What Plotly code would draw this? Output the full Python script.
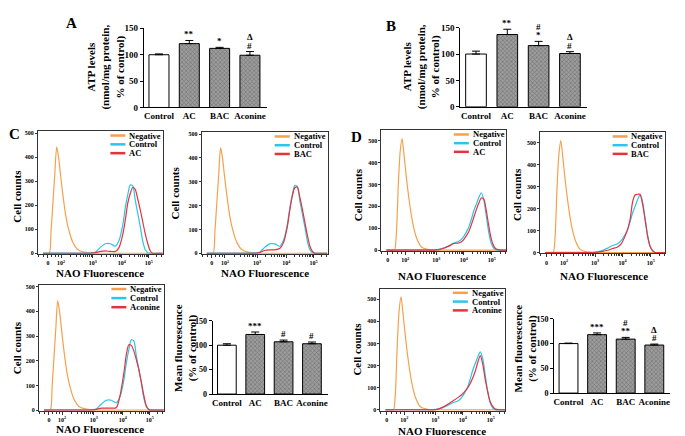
import math
import plotly.graph_objects as go

W, H = 685, 436
SERIF = "Liberation Serif, Times New Roman, Times, serif"

# ---- bar chart data ----
groups = ['Control', 'AC', 'BAC', 'Aconine']

atp_a = [100, 121, 112, 99]
atp_a_err = [1.5, 6, 2, 7]
atp_a_sig = [[], ['**'], ['*'], ['#', 'Δ']]

atp_b = [100, 137, 116, 101]
atp_b_err = [5.5, 10, 8, 3.5]
atp_b_sig = [[], ['**'], ['*', '#'], ['#', 'Δ']]

mf_c = [100, 122, 107, 103]
mf_c_err = [3, 5, 3.5, 3.5]
mf_c_sig = [[], ['***'], ['#'], ['#']]

mf_d = [100, 118, 109, 97]
mf_d_err = [1, 3.5, 3.5, 2]
mf_d_sig = [[], ['***'], ['**', '#'], ['#', 'Δ']]

# ---- flow histograms (channel scale 0-1000, counts) ----
channel = [40, 90, 105, 120, 135, 150, 165, 180, 200, 225, 250, 280, 320, 370, 420, 460, 500, 540,
           580, 620, 650, 680, 700, 720, 740, 760, 780, 800, 820, 840, 860, 880, 900, 920, 960, 1000]

c_negative = [0, 0, 93, 211, 330, 443, 400, 330, 242, 150, 92, 45, 15, 5, 2, 0, 0, 0,
              0, 0, 0, 0, 0, 0, 0, 0, 0, 0, 0, 0, 0, 0, 0, 0, 0, 0]
c_control = [1, 1, 1, 1, 1, 1, 1, 1, 1, 1, 1, 1, 1, 1, 2, 5, 25, 40,
             40, 30, 55, 120, 190, 245, 285, 280, 220, 165, 110, 50, 15, 3, 0, 0, 0, 0]
c_ac = [0, 0, 0, 0, 0, 0, 0, 0, 0, 0, 0, 0, 0, 0, 0, 3, 8, 10,
        8, 8, 25, 80, 140, 210, 250, 275, 265, 225, 180, 130, 80, 40, 10, 0, 0, 0]
c_bac = [0, 0, 0, 0, 0, 0, 0, 0, 0, 0, 0, 0, 0, 0, 0, 3, 12, 15,
         15, 20, 45, 110, 180, 240, 275, 278, 235, 185, 130, 75, 30, 8, 0, 0, 0, 0]
c_aconine = [0, 0, 0, 0, 0, 0, 0, 0, 0, 0, 0, 0, 0, 0, 0, 3, 8, 8,
             8, 10, 60, 150, 225, 265, 262, 240, 205, 165, 115, 60, 18, 3, 0, 0, 0, 0]

d_negative = [0, 0, 0, 80, 300, 450, 510, 440, 330, 215, 125, 57, 14, 3, 0, 0, 0, 0,
              0, 0, 0, 0, 0, 0, 0, 0, 0, 0, 0, 0, 0, 0, 0, 0, 0, 0]
d_control = [1, 1, 1, 1, 1, 1, 1, 1, 1, 1, 1, 1, 1, 1, 1, 3, 10, 20,
             32, 40, 55, 82, 105, 140, 180, 210, 240, 262, 230, 155, 80, 30, 8, 1, 0, 0]
d_ac = [0, 0, 0, 0, 0, 0, 0, 0, 0, 0, 0, 0, 0, 0, 0, 2, 8, 18,
        30, 32, 42, 65, 85, 115, 150, 185, 215, 238, 232, 180, 110, 50, 18, 5, 0, 0]
d_bac = [0, 0, 0, 0, 0, 0, 0, 0, 0, 0, 0, 0, 0, 0, 0, 2, 5, 10,
         18, 25, 40, 75, 105, 150, 230, 262, 265, 265, 220, 150, 75, 28, 8, 0, 0, 0]
d_aconine = [0, 0, 0, 0, 0, 0, 0, 0, 0, 0, 0, 0, 0, 0, 0, 3, 12, 25,
             40, 55, 68, 85, 100, 120, 145, 175, 215, 245, 205, 135, 80, 35, 15, 3, 0, 0]

c_tickvals = [80, 185, 440, 672, 888]
d_tickvals = [50, 190, 440, 660, 885]
fl_ticktext = ['0', '10<sup>2</sup>', '10<sup>3</sup>', '10<sup>4</sup>', '10<sup>5</sup>']

ORANGE = '#f6a04d'
BLUE = '#2cc3ec'
RED = '#e5333b'

fig = go.Figure()
layout = {}
annotations = []
shapes = []


def dom(left, top, right, bottom):
    return [left / W, right / W], [1 - bottom / H, 1 - top / H]


def label(px, py, text, size=11, angle=0):
    annotations.append(dict(x=px / W, y=1 - py / H, xref='paper', yref='paper', text=text,
                            showarrow=False, textangle=angle, xanchor='center', yanchor='middle',
                            font=dict(family=SERIF, size=size, color='black', weight='bold')))


def bar_panel(n, box, values, errs, sigs, ytick_size):
    xd, yd = dom(*box)
    xa, ya = 'x%d' % n, 'y%d' % n
    fig.add_trace(go.Bar(
        x=groups, y=values, xaxis=xa, yaxis=ya, showlegend=False, width=0.66,
        marker=dict(color=['white', '#9c9c9c', '#9c9c9c', '#9c9c9c'],
                    line=dict(color='black', width=1),
                    pattern=dict(shape=['', 'x', 'x', 'x'], fillmode='overlay',
                                 fgcolor='#4a4a4a', size=3, solidity=0.35)),
        error_y=dict(type='data', array=errs, arrayminus=[0] * len(errs), symmetric=False,
                     color='black', thickness=1, width=4)))
    layout['xaxis%d' % n] = dict(domain=xd, anchor=ya, type='category', range=[-0.5, 3.55],
                                 showline=True, linecolor='black', linewidth=1, ticks='',
                                 showgrid=False, tickfont=dict(family=SERIF, size=9, color='black', weight='bold'))
    layout['yaxis%d' % n] = dict(domain=yd, anchor=xa, range=[0, 150], tickvals=[0, 50, 100, 150],
                                 showline=True, linecolor='black', linewidth=1, ticks='outside',
                                 ticklen=3, tickcolor='black', showgrid=False, zeroline=False,
                                 tickfont=dict(family=SERIF, size=ytick_size, color='black', weight='bold'))
    for g, v, e, s in zip(groups, values, errs, sigs):
        for i, sym in enumerate(s):
            annotations.append(dict(x=g, y=v + e, xref=xa, yref=ya, text=sym, showarrow=False,
                                    yanchor='bottom', yshift=-1 + 8.5 * i,
                                    font=dict(family=SERIF, size=9, color='black', weight='bold')))


def minor_ticks(tv):
    out = []
    span0 = tv[1] - tv[0]
    for f in (0.35, 0.7):
        out.append(tv[0] - span0 * f)
    for f in (0.3, 0.55, 0.8):
        out.append(tv[0] + span0 * f)
    for i in range(1, len(tv)):
        step = (tv[i] - tv[i - 1]) if i == len(tv) - 1 else (tv[i + 1] - tv[i])
        for k in range(2, 10):
            p = tv[i] + math.log10(k) * step
            if p < 1000:
                out.append(p)
    return out


def hist_panel(n, box, yrange, tickvals, curves):
    xd, yd = dom(*box)
    xa, ya = 'x%d' % n, 'y%d' % n
    for name, ys, col in curves:
        fig.add_trace(go.Scatter(x=channel, y=ys, mode='lines', xaxis=xa, yaxis=ya, showlegend=False,
                                 line=dict(color=col, width=1.2, shape='spline', smoothing=0.7), name=name))
    tf = dict(family=SERIF, size=6, color='black', weight='bold')
    layout['xaxis%d' % n] = dict(domain=xd, anchor=ya, range=[0, 1000], tickvals=tickvals, ticktext=fl_ticktext,
                                 showline=True, mirror=True, linecolor='#333', linewidth=1, ticks='outside',
                                 ticklen=3, tickcolor='#333', showgrid=False, zeroline=False, tickfont=tf,
                                 minor=dict(tickvals=minor_ticks(tickvals), ticks='outside', ticklen=2,
                                            tickcolor='#333', showgrid=False))
    layout['yaxis%d' % n] = dict(domain=yd, anchor=xa, range=yrange, tickvals=[0, 100, 200, 300, 400, 500],
                                 showline=True, mirror=True, linecolor='#333', linewidth=1, ticks='outside',
                                 ticklen=2, tickcolor='#333', showgrid=False, zeroline=False, tickfont=tf)
    # small legend inside the top right corner
    for i, (name, ys, col) in enumerate(curves):
        yy = 1 - 0.035 - 0.072 * i
        shapes.append(dict(type='line', xref=xa + ' domain', yref=ya + ' domain', x0=0.58, x1=0.70,
                           y0=yy, y1=yy, line=dict(color=col, width=2.5)))
        annotations.append(dict(x=0.715, y=yy, xref=xa + ' domain', yref=ya + ' domain', text=name,
                                showarrow=False, xanchor='left', yanchor='middle',
                                font=dict(family=SERIF, size=8.5, color='black', weight='bold')))


bar_panel(1, (135, 15.7, 258, 96.7), atp_a, atp_a_err, atp_a_sig, 9)
bar_panel(2, (452, 15, 579, 96), atp_b, atp_b_err, atp_b_sig, 9)
bar_panel(3, (204, 315, 319, 390), mf_c, mf_c_err, mf_c_sig, 8)
bar_panel(4, (546, 313, 662, 389), mf_d, mf_d_err, mf_d_sig, 8)

hist_panel(5, (29, 121, 154, 246.5), [-2, 508], c_tickvals,
           [('Negative', c_negative, ORANGE), ('Control', c_control, BLUE), ('AC', c_ac, RED)])
hist_panel(6, (193, 122, 319, 246.5), [-2, 508], c_tickvals,
           [('Negative', c_negative, ORANGE), ('Control', c_control, BLUE), ('BAC', c_bac, RED)])
hist_panel(7, (30, 278, 155, 407), [-2, 508], c_tickvals,
           [('Negative', c_negative, ORANGE), ('Control', c_control, BLUE), ('Aconine', c_aconine, RED)])
hist_panel(8, (373, 120, 498, 243.5), [-4, 548], d_tickvals,
           [('Negative', d_negative, ORANGE), ('Control', d_control, BLUE), ('AC', d_ac, RED)])
hist_panel(9, (532, 122, 657, 246), [-4, 548], d_tickvals,
           [('Negative', d_negative, ORANGE), ('Control', d_control, BLUE), ('BAC', d_bac, RED)])
hist_panel(10, (372, 282, 497, 407), [-4, 548], d_tickvals,
           [('Negative', d_negative, ORANGE), ('Control', d_control, BLUE), ('Aconine', d_aconine, RED)])

# panel letters
label(63, 10, 'A', 15)
label(383, 13, 'B', 15)
label(6, 124, 'C', 15)
label(348, 127, 'D', 15)

# axis titles
atp_title = 'ATP levels<br>(nmol/mg protein,<br>% of control)'
label(97, 55, atp_title, 11, -90)
label(413, 55, atp_title, 11, -90)
mf_title = 'Mean fluorescence<br>(% of control)'
label(176, 343, mf_title, 11, -90)
label(517, 343, mf_title, 11, -90)
for px, py in [(8, 187), (166, 184), (8, 342), (349, 186), (508, 186), (349, 344)]:
    label(px, py, 'Cell counts', 11, -90)
for px, py in [(91, 266), (256, 266), (91, 426), (434, 269), (596, 269), (434, 428)]:
    label(px, py, 'NAO Fluorescence', 11)

layout.update(width=W, height=H, margin=dict(l=0, r=0, t=0, b=0), plot_bgcolor='white',
              paper_bgcolor='white', showlegend=False, annotations=annotations, shapes=shapes,
              font=dict(family=SERIF, color='black'))
fig.update_layout(**layout)
fig.write_html("out.html")
